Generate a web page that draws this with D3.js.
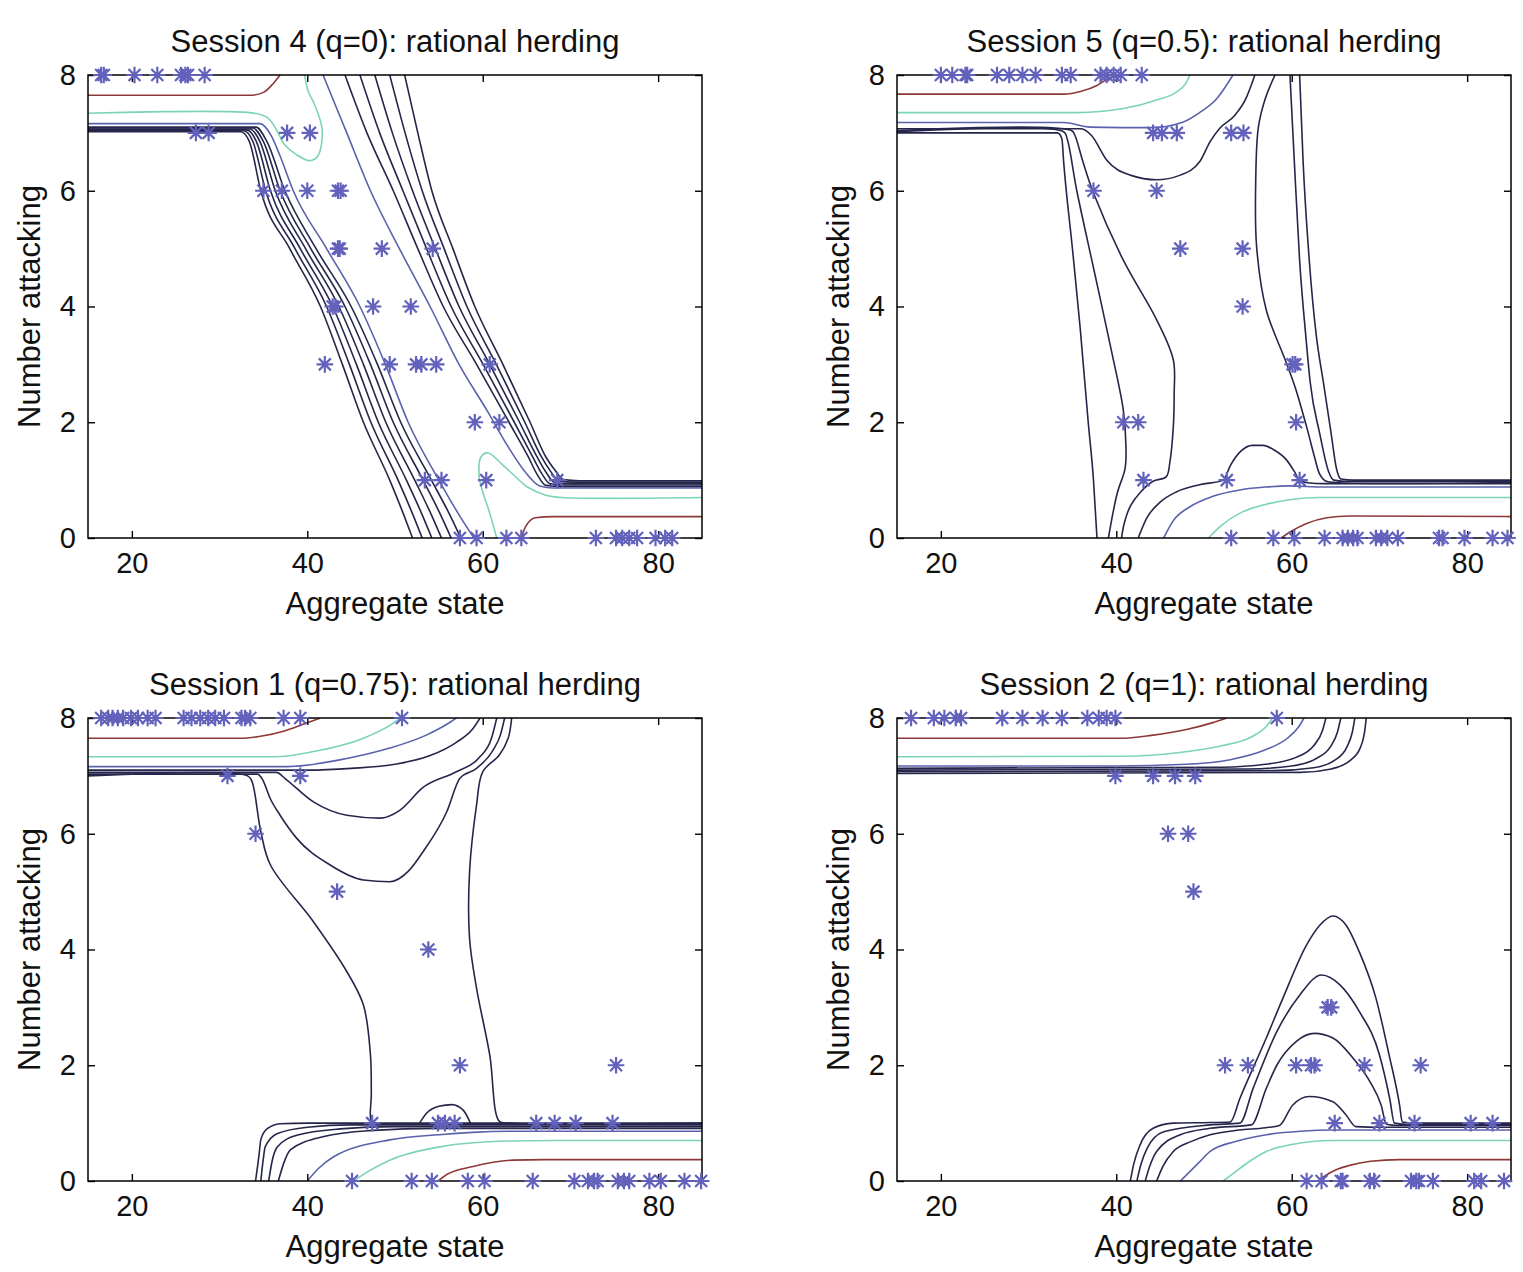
<!DOCTYPE html>
<html>
<head>
<meta charset="utf-8">
<script src="https://cdn.jsdelivr.net/npm/d3@7"></script>
<style>
  body { margin: 0; background: #fff; }
  text { font-family: "Liberation Sans", Arial, Helvetica, sans-serif; fill: #111; }
</style>
</head>
<body>
<svg id="chart" width="1523" height="1272"></svg>
<script>
// axis ticks, shared by all four panels
const xTicks = [20, 40, 60, 80];
const yTicks = [0, 2, 4, 6, 8];
const titles = [
  "Session 4 (q=0): rational herding",
  "Session 5 (q=0.5): rational herding",
  "Session 1 (q=0.75): rational herding",
  "Session 2 (q=1): rational herding"
];

// observed choices: [aggregate state, number attacking]
const s4Stars = [
  [16.5,8],[16.8,8],[20.3,8],[22.9,8],[25.6,8],[26.1,8],[26.4,8],[28.3,8],
  [27.3,7],[28.75,7],[37.7,7],[40.3,7],
  [35.0,6],[37.1,6],[40.0,6],[43.5,6],[43.8,6],
  [43.5,5],[43.7,5],[48.5,5],[54.3,5],
  [42.9,4],[43.2,4],[47.5,4],[51.8,4],
  [42.0,3],[49.4,3],[52.4,3],[53.0,3],[54.7,3],[60.8,3],
  [59.1,2],[61.9,2],
  [53.4,1],[55.3,1],[60.4,1],[68.5,1],
  [57.4,0],[59.3,0],[62.7,0],[64.4,0],[72.9,0],[75.2,0],[75.9,0],[76.7,0],[77.6,0],[79.7,0],[80.8,0],[81.6,0]
];
const s5Stars = [
  [20.0,8],[21.3,8],[22.8,8],[23.0,8],[26.4,8],[27.8,8],[29.3,8],[30.8,8],[33.8,8],[34.8,8],[38.2,8],[38.9,8],[39.7,8],[40.5,8],[42.9,8],
  [44.2,7],[45.2,7],[46.9,7],[53.1,7],[54.5,7],
  [37.4,6],[44.6,6],
  [47.3,5],[54.4,5],
  [54.4,4],
  [60.1,3],[60.4,3],
  [40.8,2],[42.5,2],[60.5,2],
  [43.1,1],[52.6,1],[60.9,1],
  [53.1,0],[57.9,0],[60.3,0],[63.75,0],[65.8,0],[66.4,0],[67.0,0],[67.5,0],[69.6,0],[70.2,0],[70.9,0],[72.1,0],[76.8,0],[77.2,0],[79.7,0],[82.9,0],[84.6,0]
];
const s1Stars = [
  [16.5,8],[17.3,8],[17.8,8],[18.4,8],[19.0,8],[19.9,8],[20.7,8],[21.8,8],[22.7,8],[25.9,8],[26.8,8],[27.8,8],[28.7,8],[29.5,8],[30.5,8],[32.5,8],[32.9,8],[33.5,8],[37.3,8],[39.2,8],[50.8,8],
  [30.9,7],[39.2,7],
  [34.1,6],
  [43.4,5],
  [53.8,4],
  [57.4,2],[75.2,2],
  [47.4,1],[54.9,1],[55.7,1],[56.8,1],[66.1,1],[68.2,1],[70.6,1],[74.8,1],
  [45.1,0],[51.9,0],[54.2,0],[58.3,0],[60.2,0],[65.7,0],[70.45,0],[72.0,0],[72.7,0],[73.1,0],[75.4,0],[76.1,0],[76.7,0],[79.0,0],[80.3,0],[83.0,0],[84.9,0]
];
const s2Stars = [
  [16.6,8],[19.2,8],[20.4,8],[21.7,8],[22.3,8],[27.0,8],[29.3,8],[31.6,8],[33.8,8],[36.7,8],[38.0,8],[38.9,8],[39.9,8],[58.3,8],
  [39.9,7],[44.2,7],[46.7,7],[49.0,7],
  [45.9,6],[48.2,6],
  [48.8,5],
  [64.1,3],[64.5,3],
  [52.4,2],[55.0,2],[60.5,2],[62.2,2],[62.6,2],[68.3,2],[74.7,2],
  [64.9,1],[70.0,1],[74.0,1],[80.4,1],[82.9,1],
  [61.7,0],[63.4,0],[65.6,0],[65.8,0],[68.9,0],[69.4,0],[73.6,0],[74.2,0],[74.5,0],[76.1,0],[80.8,0],[81.6,0],[84.2,0]
];

// model contour lines: level + points [state, attacking]
const s4Lines = [
  {level: "red", pts: [[15,7.65],[33.5,7.65],[35,7.7],[36.1,7.85],[36.9,8]]},
  {level: "red", pts: [[64.4,0],[64.9,0.2],[66,0.35],[68,0.37],[85,0.37]]},
  {level: "green", pts: [[15,7.34],[34,7.34],[35.5,7.26],[36.5,7.05],[37.4,6.8],[38.8,6.62],[40.3,6.52],[41.2,6.6],[41.7,7.05],[40.8,7.5],[40.1,7.72],[39.7,8]]},
  {level: "green", pts: [[61.6,0],[60.8,0.43],[60.0,0.8],[59.6,1.05],[59.8,1.4],[60.6,1.47],[62.3,1.26],[63.8,1.05],[65,0.89],[67.2,0.74],[69,0.7],[85,0.7]]},
  {level: "blue", pts: [[15,7.16],[34.6,7.16],[35.9,6.95],[36.9,6.6],[38.4,6.0],[42.2,5.0],[46.0,4.0],[48.9,3.0],[51.5,2.0],[55.0,1.0],[57.3,0.4],[59,0]]},
  {level: "blue", pts: [[41.8,8],[44.5,7],[47.2,6],[50.5,5],[54,4],[57.3,3],[60.5,2.2],[62.8,1.6],[64.8,1.15],[66.5,0.9],[68,0.865],[85,0.865]]},
  {level: "dark", pts: [[15,7.02],[32.4,7.02],[33.4,6.85],[34.7,6.0],[38.0,5.0],[41.5,4.0],[44.0,3.0],[46.4,2.0],[49.4,1.0],[51.0,0.4],[52.0,0]]},
  {level: "dark", pts: [[15,7.036],[32.75,7.036],[33.8,6.85],[35.25,6.0],[38.6,5.0],[42.2,4.0],[44.8,3.0],[47.25,2.0],[50.35,1.0],[52.05,0.4],[53.1,0]]},
  {level: "dark", pts: [[15,7.052],[33.1,7.052],[34.2,6.85],[35.8,6.0],[39.2,5.0],[42.9,4.0],[45.6,3.0],[48.1,2.0],[51.3,1.0],[53.1,0.4],[54.2,0]]},
  {level: "dark", pts: [[15,7.068],[33.45,7.068],[34.6,6.85],[36.35,6.0],[39.8,5.0],[43.6,4.0],[46.4,3.0],[48.95,2.0],[52.25,1.0],[54.15,0.4],[55.3,0]]},
  {level: "dark", pts: [[15,7.084],[33.8,7.084],[35.0,6.85],[36.9,6.0],[40.4,5.0],[44.3,4.0],[47.2,3.0],[49.8,2.0],[53.2,1.0],[55.2,0.4],[56.4,0]]},
  {level: "dark", pts: [[15,7.1],[34.15,7.1],[35.4,6.85],[37.45,6.0],[41.0,5.0],[45.0,4.0],[48.0,3.0],[50.65,2.0],[54.15,1.0],[56.25,0.4],[57.5,0]]},
  {level: "dark", pts: [[44.3,8],[46.8,7],[49.8,6],[52.6,5],[55.5,4],[59.3,3],[63.0,2],[65.2,1.4],[66.2,1.1],[67.2,0.91],[69,0.89],[85,0.89]]},
  {level: "dark", pts: [[46.0,8],[48.25,7],[50.9,6],[53.6,5],[56.4,4],[60.05,3],[63.6,2],[65.7,1.4],[66.7,1.12],[67.7,0.935],[69.5,0.915],[85,0.915]]},
  {level: "dark", pts: [[47.7,8],[49.7,7],[52.0,6],[54.6,5],[57.3,4],[60.8,3],[64.2,2],[66.2,1.4],[67.2,1.14],[68.2,0.96],[70,0.94],[85,0.94]]},
  {level: "dark", pts: [[49.4,8],[51.15,7],[53.1,6],[55.6,5],[58.2,4],[61.55,3],[64.8,2],[66.7,1.4],[67.7,1.16],[68.7,0.985],[70.5,0.965],[85,0.965]]},
  {level: "dark", pts: [[51.1,8],[52.6,7],[54.2,6],[56.6,5],[59.1,4],[62.3,3],[65.4,2],[67.2,1.4],[68.2,1.18],[69.2,1.01],[71,0.99],[85,0.99]]}
];
const s5Lines = [
  {level: "red", pts: [[15,7.67],[34,7.67],[36,7.72],[37.8,7.82],[39,7.93],[40,8]]},
  {level: "red", pts: [[58.8,0],[60,0.12],[61.7,0.25],[64,0.35],[66.6,0.38],[85,0.37]]},
  {level: "green", pts: [[15,7.35],[35.5,7.35],[40.8,7.42],[44.6,7.57],[46.9,7.71],[47.9,7.85],[48.4,8]]},
  {level: "green", pts: [[50.5,0],[52,0.22],[54.1,0.43],[57,0.58],[59.8,0.66],[63,0.7],[85,0.7]]},
  {level: "blue", pts: [[15,7.18],[34,7.18],[37,7.1],[43.9,7.09],[47.5,7.18],[49.5,7.35],[51.5,7.6],[53.3,8]]},
  {level: "blue", pts: [[45.4,0],[46.5,0.3],[48.4,0.54],[51,0.72],[54.1,0.83],[57,0.88],[59.8,0.9],[63.6,0.88],[85,0.88]]},
  {level: "dark", pts: [[15,7.0],[33.3,7.0],[33.8,6.9],[34.0,6.5],[35.0,5.0],[35.9,3.6],[36.8,2.0],[37.4,1.0],[37.8,0]]},
  {level: "dark", pts: [[15,7.02],[34.0,7.02],[34.4,6.9],[35.5,6.0],[37.5,4.6],[39.5,3.2],[40.8,2.21],[41.1,1.6],[41.0,1.2],[40.1,0.77],[39.1,0]]},
  {level: "dark", pts: [[15,7.04],[34.9,7.04],[35.3,6.95],[36.2,6.5],[37.4,5.96],[40.8,4.8],[44.6,3.77],[46.5,3.08],[46.6,2.5],[46.5,1.92],[46.1,1.3],[45.7,1.06],[44.2,0.98],[42.8,0.8],[41.6,0.55],[40.9,0.25],[40.6,0]]},
  {level: "dark", pts: [[15,7.07],[36,7.07],[37.2,6.95],[38.9,6.53],[41.6,6.27],[44.6,6.19],[47.3,6.27],[49.5,6.5],[50.7,6.85],[51.8,7.08],[53.5,7.3],[54.8,7.6],[55.8,8]]},
  {level: "dark", pts: [[42.5,0],[43.5,0.35],[45,0.62],[46.9,0.8],[49.5,0.92],[52.2,1.0],[53.0,1.25],[54.2,1.5],[55.5,1.6],[56.7,1.6],[58,1.52],[59.4,1.35],[60.3,1.15],[60.9,1.0],[62,0.95],[63.6,0.94],[85,0.94]]},
  {level: "dark", pts: [[58.1,8],[57.0,7.6],[56.2,7.1],[55.9,6.2],[56.0,5.03],[57.1,3.94],[59.2,3.1],[60.4,2.6],[61.7,1.92],[62.6,1.4],[63.2,1.1],[63.8,0.99],[65,0.96],[85,0.96]]},
  {level: "dark", pts: [[59.8,8],[60.3,6.5],[60.9,4.8],[61.6,3.5],[62.1,2.7],[63.2,1.8],[64.2,1.15],[64.8,1.0],[66,0.98],[85,0.98]]},
  {level: "dark", pts: [[60.9,8],[61.3,6.5],[62.0,4.8],[62.8,3.5],[63.6,2.7],[64.5,1.8],[65.1,1.2],[65.6,1.02],[67,1.0],[85,1.0]]}
];
const s1Lines = [
  {level: "red", pts: [[15,7.65],[32.4,7.65],[34.5,7.68],[37.5,7.78],[40,7.92],[41.5,8]]},
  {level: "red", pts: [[54.9,0],[56,0.12],[58.9,0.25],[63.4,0.36],[67,0.37],[85,0.37]]},
  {level: "green", pts: [[15,7.33],[36.3,7.33],[40.7,7.42],[46.4,7.65],[49.5,7.88],[50.6,8]]},
  {level: "green", pts: [[45.3,0],[47,0.17],[49.4,0.36],[55.1,0.59],[62.7,0.69],[68,0.7],[85,0.7]]},
  {level: "blue", pts: [[15,7.16],[37.7,7.16],[44.5,7.3],[49.4,7.48],[53.5,7.7],[56,7.9],[57,8]]},
  {level: "blue", pts: [[40,0],[41.3,0.22],[43,0.42],[49.4,0.71],[55,0.8],[58.9,0.84],[64,0.86],[85,0.86]]},
  {level: "dark", pts: [[15,7.1],[40,7.1],[45,7.13],[50,7.2],[54,7.35],[57,7.58],[58.8,7.8],[59.7,8]]},
  {level: "dark", pts: [[15,7.06],[36.5,7.06],[37.5,6.95],[40.7,6.55],[44.5,6.32],[48.3,6.27],[50.5,6.4],[53.2,6.8],[57,7.07],[59.5,7.3],[61,7.65],[61.6,8]]},
  {level: "dark", pts: [[15,7.03],[34.3,7.03],[34.85,6.95],[35.8,6.6],[36.9,6.32],[38.8,5.92],[42.6,5.46],[46.4,5.2],[49.4,5.17],[51.5,5.35],[53.2,5.69],[55.9,6.38],[57.4,6.96],[59.3,7.13],[61.2,7.45],[62,7.7],[62.5,8]]},
  {level: "dark", pts: [[15,7.0],[33.2,7.0],[33.7,6.9],[34.7,6.04],[35.8,5.46],[40.7,4.48],[44.5,3.62],[46.4,3.04],[47.2,2.18],[47.3,1.5],[47.3,1.05],[48,0.995]]},
  {level: "dark", pts: [[85,1.0],[63,1.0],[61.9,1.03],[60.8,2.18],[59.3,3.33],[58.5,4.19],[58.5,5.34],[59.3,6.5],[60,7.07],[61.9,7.36],[62.9,7.65],[63.3,8]]},
  {level: "dark", pts: [[34.1,0],[34.5,0.45],[34.7,0.71],[35.4,0.9],[36.9,0.99],[40,1.0],[85,1.0]]},
  {level: "dark", pts: [[34.7,0],[35.0,0.4],[35.2,0.59],[36.6,0.82],[40,0.93],[45,0.97],[85,0.97]]},
  {level: "dark", pts: [[35.6,0],[36.0,0.35],[36.6,0.59],[38.8,0.79],[43.75,0.9],[50,0.94],[85,0.94]]},
  {level: "dark", pts: [[36.7,0],[37.3,0.3],[38.1,0.54],[41.9,0.77],[47,0.87],[55,0.91],[85,0.91]]},
  {level: "dark", pts: [[52.8,1.0],[53.6,1.17],[55,1.29],[56.5,1.32],[57.8,1.22],[58.6,1.0]]}
];
const s2Lines = [
  {level: "red", pts: [[15,7.65],[40.5,7.65],[44,7.7],[48,7.8],[51,7.92],[52.6,8]]},
  {level: "red", pts: [[63.0,0],[63.9,0.1],[65,0.19],[66.6,0.27],[69,0.34],[72.3,0.37],[85,0.37]]},
  {level: "green", pts: [[15,7.33],[41,7.34],[47,7.4],[52,7.52],[55.5,7.68],[57.2,7.87],[57.8,8]]},
  {level: "green", pts: [[52.2,0],[53.5,0.15],[55,0.32],[57.1,0.51],[60,0.63],[64.7,0.7],[85,0.7]]},
  {level: "blue", pts: [[15,7.17],[40,7.17],[48,7.2],[53,7.28],[57,7.45],[59.5,7.65],[60.8,7.85],[61.4,8]]},
  {level: "blue", pts: [[47.3,0],[48.3,0.15],[49.5,0.33],[50.7,0.51],[53.5,0.68],[57.1,0.8],[61,0.86],[64.7,0.88],[85,0.88]]},
  {level: "dark", pts: [[15,7.13],[52,7.15],[57,7.2],[60.5,7.32],[62.5,7.52],[63.5,7.78],[63.9,8]]},
  {level: "dark", pts: [[15,7.1],[55,7.12],[60,7.17],[62.8,7.3],[64.4,7.5],[65.2,7.75],[65.6,8]]},
  {level: "dark", pts: [[15,7.07],[58,7.09],[62.5,7.14],[65,7.28],[66.3,7.5],[66.9,7.75],[67.2,8]]},
  {level: "dark", pts: [[15,7.04],[61,7.06],[64.5,7.12],[66.6,7.26],[67.8,7.48],[68.3,7.75],[68.5,8]]},
  {level: "dark", pts: [[41.6,0],[42.0,0.3],[42.7,0.62],[44.2,0.91],[46.5,1.0],[50.7,1.01],[53.0,1.02],[54.1,1.43],[57.1,2.47],[59.0,3.16],[61.7,4.08],[63.2,4.42],[64.7,4.58],[66.2,4.42],[67.7,3.96],[69.6,3.16],[71.1,2.18],[72.3,1.31],[72.6,1.02],[74,1.0],[85,1.0]]},
  {level: "dark", pts: [[42.35,0],[42.8,0.28],[43.5,0.56],[45.4,0.85],[50.7,0.97],[54.1,1.0],[55.6,1.6],[58.3,2.58],[60.9,3.21],[63.4,3.56],[65.5,3.39],[67.7,2.93],[70.0,2.18],[71.2,1.4],[71.7,1.0],[73,0.98],[85,0.98]]},
  {level: "dark", pts: [[43.3,0],[43.8,0.25],[44.6,0.51],[47.3,0.8],[50.7,0.91],[55.4,0.97],[57.1,1.6],[58.3,2.0],[60.5,2.41],[62.6,2.55],[64.7,2.47],[67.0,2.12],[68.9,1.72],[70.2,1.31],[70.8,0.98],[72,0.96],[85,0.96]]},
  {level: "dark", pts: [[44.6,0],[45.3,0.25],[46.5,0.51],[48.5,0.68],[50.7,0.8],[54,0.88],[57,0.92],[58.6,0.96],[60.1,1.31],[62.0,1.46],[64.7,1.37],[66.2,1.14],[67.3,0.94],[70,0.93],[85,0.93]]}
];

const panels = [
  {title: titles[0], stars: s4Stars, lines: s4Lines, left: 88, top: 75},
  {title: titles[1], stars: s5Stars, lines: s5Lines, left: 897, top: 75},
  {title: titles[2], stars: s1Stars, lines: s1Lines, left: 88, top: 718},
  {title: titles[3], stars: s2Stars, lines: s2Lines, left: 897, top: 718}
];

const width = 614, height = 463;
const levelColor = {dark: "#26264c", blue: "#5a62ac", green: "#7cd4b4", red: "#8e3838"};
const starColor = "#6262bc";

const svg = d3.select("#chart");
svg.append("rect").attr("width", 1523).attr("height", 1272).attr("fill", "#fff");

// asterisk marker like matlab's '*'
const r = 8.3, dg = 6.0;
const starPath = `M${-r},0H${r}M0,${-r}V${r}M${-dg},${-dg}L${dg},${dg}M${-dg},${dg}L${dg},${-dg}`;

// lines that run steadily left to right get a monotone curve (no overshoot at the bends)
function isMonotoneX(pts) {
  for (let k = 1; k < pts.length; k++) if (pts[k][0] <= pts[k - 1][0]) return false;
  return true;
}

panels.forEach((p, i) => {
  const x = d3.scaleLinear().domain([15, 85]).range([0, width]);
  const y = d3.scaleLinear().domain([0, 8]).range([height, 0]);

  const g = svg.append("g").attr("transform", `translate(${p.left},${p.top})`);

  g.append("clipPath").attr("id", "clip" + i)
    .append("rect").attr("width", width).attr("height", height);

  const lineMono = d3.line().x(d => x(d[0])).y(d => y(d[1])).curve(d3.curveMonotoneX);
  const lineCR = d3.line().x(d => x(d[0])).y(d => y(d[1])).curve(d3.curveCatmullRom.alpha(0.5));

  g.append("g").attr("clip-path", `url(#clip${i})`)
    .selectAll("path")
    .data(p.lines)
    .enter()
    .append("path")
    .attr("d", d => (isMonotoneX(d.pts) ? lineMono : lineCR)(d.pts))
    .attr("fill", "none")
    .attr("stroke", d => levelColor[d.level])
    .attr("stroke-width", 1.6);

  // axes, ticks pointing inward, box all round
  g.append("g").attr("transform", `translate(0,${height})`)
    .call(d3.axisBottom(x).tickValues(xTicks).tickSizeInner(-7).tickSizeOuter(0).tickPadding(14))
    .call(a => a.select(".domain").remove());
  g.append("g")
    .call(d3.axisTop(x).tickValues(xTicks).tickSizeInner(-7).tickSizeOuter(0).tickFormat(""))
    .call(a => a.select(".domain").remove());
  g.append("g")
    .call(d3.axisLeft(y).tickValues(yTicks).tickSizeInner(-7).tickSizeOuter(0).tickPadding(12))
    .call(a => a.select(".domain").remove());
  g.append("g").attr("transform", `translate(${width},0)`)
    .call(d3.axisRight(y).tickValues(yTicks).tickSizeInner(-7).tickSizeOuter(0).tickFormat(""))
    .call(a => a.select(".domain").remove());

  g.selectAll(".tick line").attr("stroke", "#000").attr("stroke-width", 1.4);
  g.selectAll(".tick text").attr("font-size", 29).attr("fill", "#111")
    .attr("font-family", "Liberation Sans, Arial, sans-serif");

  g.append("rect")
    .attr("width", width).attr("height", height)
    .attr("fill", "none").attr("stroke", "#000").attr("stroke-width", 1.5);

  g.append("g")
    .selectAll("path")
    .data(p.stars)
    .enter()
    .append("path")
    .attr("transform", d => `translate(${x(d[0])},${y(d[1])})`)
    .attr("d", starPath)
    .attr("stroke", starColor)
    .attr("stroke-width", 2.2)
    .attr("fill", "none");

  g.append("text")
    .attr("x", width / 2).attr("y", -23)
    .attr("text-anchor", "middle").attr("font-size", 31)
    .text(p.title);

  g.append("text")
    .attr("x", width / 2).attr("y", height + 76)
    .attr("text-anchor", "middle").attr("font-size", 31)
    .text("Aggregate state");

  g.append("text")
    .attr("transform", `translate(-48,${height / 2})rotate(-90)`)
    .attr("text-anchor", "middle").attr("font-size", 31)
    .text("Number attacking");
});
</script>
</body>
</html>
